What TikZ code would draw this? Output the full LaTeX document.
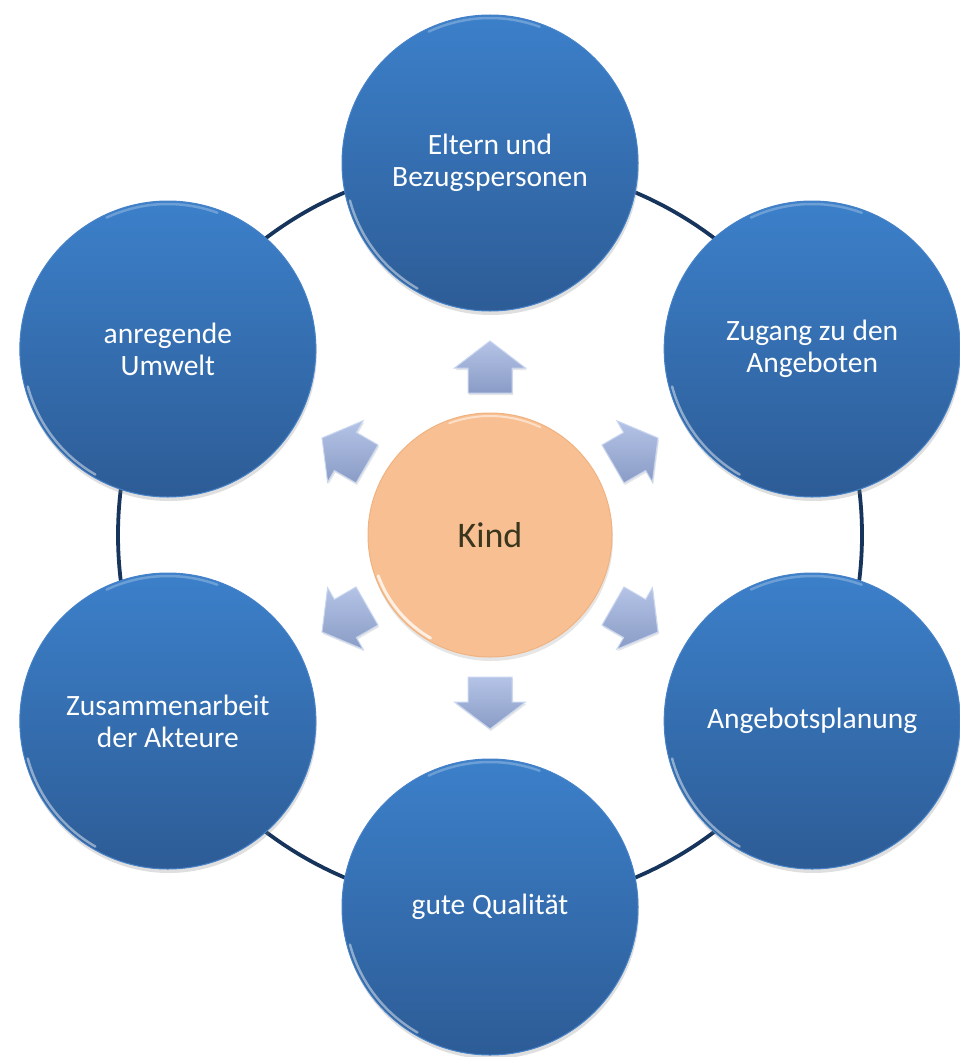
\documentclass[tikz,border=0pt]{standalone}
\usepackage{fontspec}
\setmainfont{Carlito}
\usetikzlibrary{shadows}
\definecolor{bluetop}{RGB}{60,128,202}
\definecolor{bluebot}{RGB}{45,92,150}
\definecolor{bluerim}{RGB}{70,130,200}
\definecolor{ringc}{RGB}{22,52,92}
\definecolor{peach}{RGB}{248,192,146}
\definecolor{peachrim}{RGB}{240,178,128}
\definecolor{kindtext}{RGB}{58,54,30}
\definecolor{arrtop}{RGB}{180,195,230}
\definecolor{arrbot}{RGB}{138,156,198}
\definecolor{arredge}{RGB}{200,214,240}
\begin{document}
\begin{tikzpicture}[x=1pt,y=1pt,
  outer/.style={circle, minimum size=296pt, inner sep=0pt,
    top color=bluetop, bottom color=bluebot, draw=bluerim, line width=1pt,
    text=white, align=center, font=\fontsize{29.5}{32}\selectfont,
    drop shadow={opacity=0.25, shadow xshift=1pt, shadow yshift=-4pt}},
  center/.style={circle, minimum size=244pt, inner sep=0pt,
    fill=peach, draw=peachrim, line width=1pt,
    text=kindtext, font=\fontsize{36}{40}\selectfont,
    drop shadow={opacity=0.2, shadow xshift=1pt, shadow yshift=-4pt}},
  blockarrow/.style={top color=arrtop, bottom color=arrbot, draw=arredge, line width=1pt,
    drop shadow={opacity=0.2, shadow xshift=1pt, shadow yshift=-2pt}},
  ring/.style={draw=ringc, line width=3.8pt},
  gloss/.style={draw=white, line width=2.5pt, opacity=0.45, line cap=round}
]
\useasboundingbox (0,-1057) rectangle (960,0);
\begin{scope}[shift={(490,-535)}]
  \coordinate (C) at (0,0);
  \draw[ring] (C) circle (372);
  \node[center] (kind) at (C) {Kind};
  \foreach \a in {90,30,-30,-90,-150,150}{
    \draw[blockarrow, rotate=\a-90] (-22,142) -- (-22,167) -- (-35.5,167) -- (0,194)
      -- (35.5,167) -- (22,167) -- (22,142) -- cycle;
  }
  \node[outer] (eltern) at (90:372) {Eltern und\\Bezugspersonen};
  \node[outer] (zugang) at (30:372) {Zugang zu den\\Angeboten};
  \node[outer] (planung) at (-30:372) {Angebotsplanung};
  \node[outer] (qualitaet) at (-90:372) {gute Qualität};
  \node[outer] (zusammen) at (-150:372) {Zusammenarbeit\\der Akteure};
  \node[outer] (umwelt) at (150:372) {anregende\\Umwelt};
  \foreach \n in {eltern,zugang,planung,qualitaet,zusammen,umwelt}{
    \draw[gloss] ([shift={(195:145)}]\n.center) arc[start angle=195, end angle=240, radius=145];
    \draw[gloss, opacity=0.25] ([shift={(70:145)}]\n.center) arc[start angle=70, end angle=115, radius=145];
  }
  \draw[gloss, line width=3pt, opacity=0.75] ([shift={(200:119)}]kind.center) arc[start angle=200, end angle=240, radius=119];
  \draw[gloss, line width=2pt, opacity=0.5] ([shift={(65:119)}]kind.center) arc[start angle=65, end angle=110, radius=119];
\end{scope}
\end{tikzpicture}
\end{document}
